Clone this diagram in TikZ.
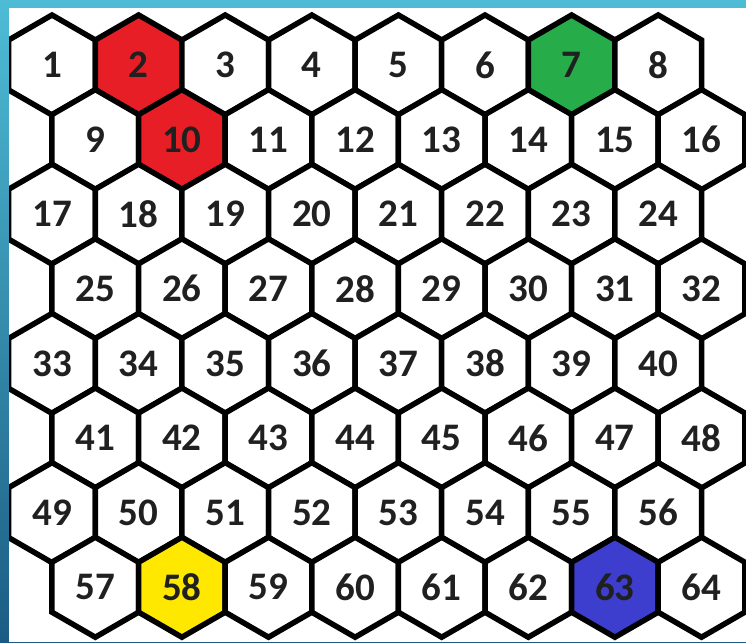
\documentclass[tikz,border=0pt]{standalone}
\usepackage{fontspec}
\setmainfont{Carlito}
\usetikzlibrary{shapes.geometric}
\definecolor{frametop}{RGB}{78,188,214}
\definecolor{framebot}{RGB}{28,92,132}
\definecolor{cellred}{RGB}{232,30,38}
\definecolor{cellgreen}{RGB}{38,172,72}
\definecolor{cellyellow}{RGB}{255,232,0}
\definecolor{cellblue}{RGB}{62,62,206}
\definecolor{digit}{RGB}{32,32,32}

\begin{document}
\begin{tikzpicture}[x=1pt, y=-1pt,
    cell/.style={regular polygon, regular polygon sides=6, shape border rotate=30,
      minimum size=100pt, inner sep=0pt, draw=black, line width=5.5pt, fill=white,
      text=digit, font=\fontsize{39}{39}\selectfont\bfseries},
    cell 2/.style={fill=cellred}, cell 10/.style={fill=cellred},
    cell 7/.style={fill=cellgreen}, cell 58/.style={fill=cellyellow},
    cell 63/.style={fill=cellblue}]
  \useasboundingbox (0,0) rectangle (746,642);
  \shade[top color=frametop, bottom color=framebot] (0,0) rectangle (746,642);
  \fill[white] (9,8) rectangle (746,642);
  \begin{scope}
    \clip (9,8) rectangle (746,642);
    % 8 rows of 8 cells, odd rows shifted half a cell
    \foreach \r in {0,...,7} {
      \foreach \c in {0,...,7} {
        \pgfmathtruncatemacro\n{8*\r+\c+1}
        \pgfmathsetmacro\xx{52+86.6*\c+43.3*mod(\r,2)}
        \pgfmathsetmacro\yy{65+74.6*\r}
        \node[cell, cell \n/.try] (h\n) at (\xx,\yy) {\n};
      }
    }
  \end{scope}
\end{tikzpicture}
\end{document}
